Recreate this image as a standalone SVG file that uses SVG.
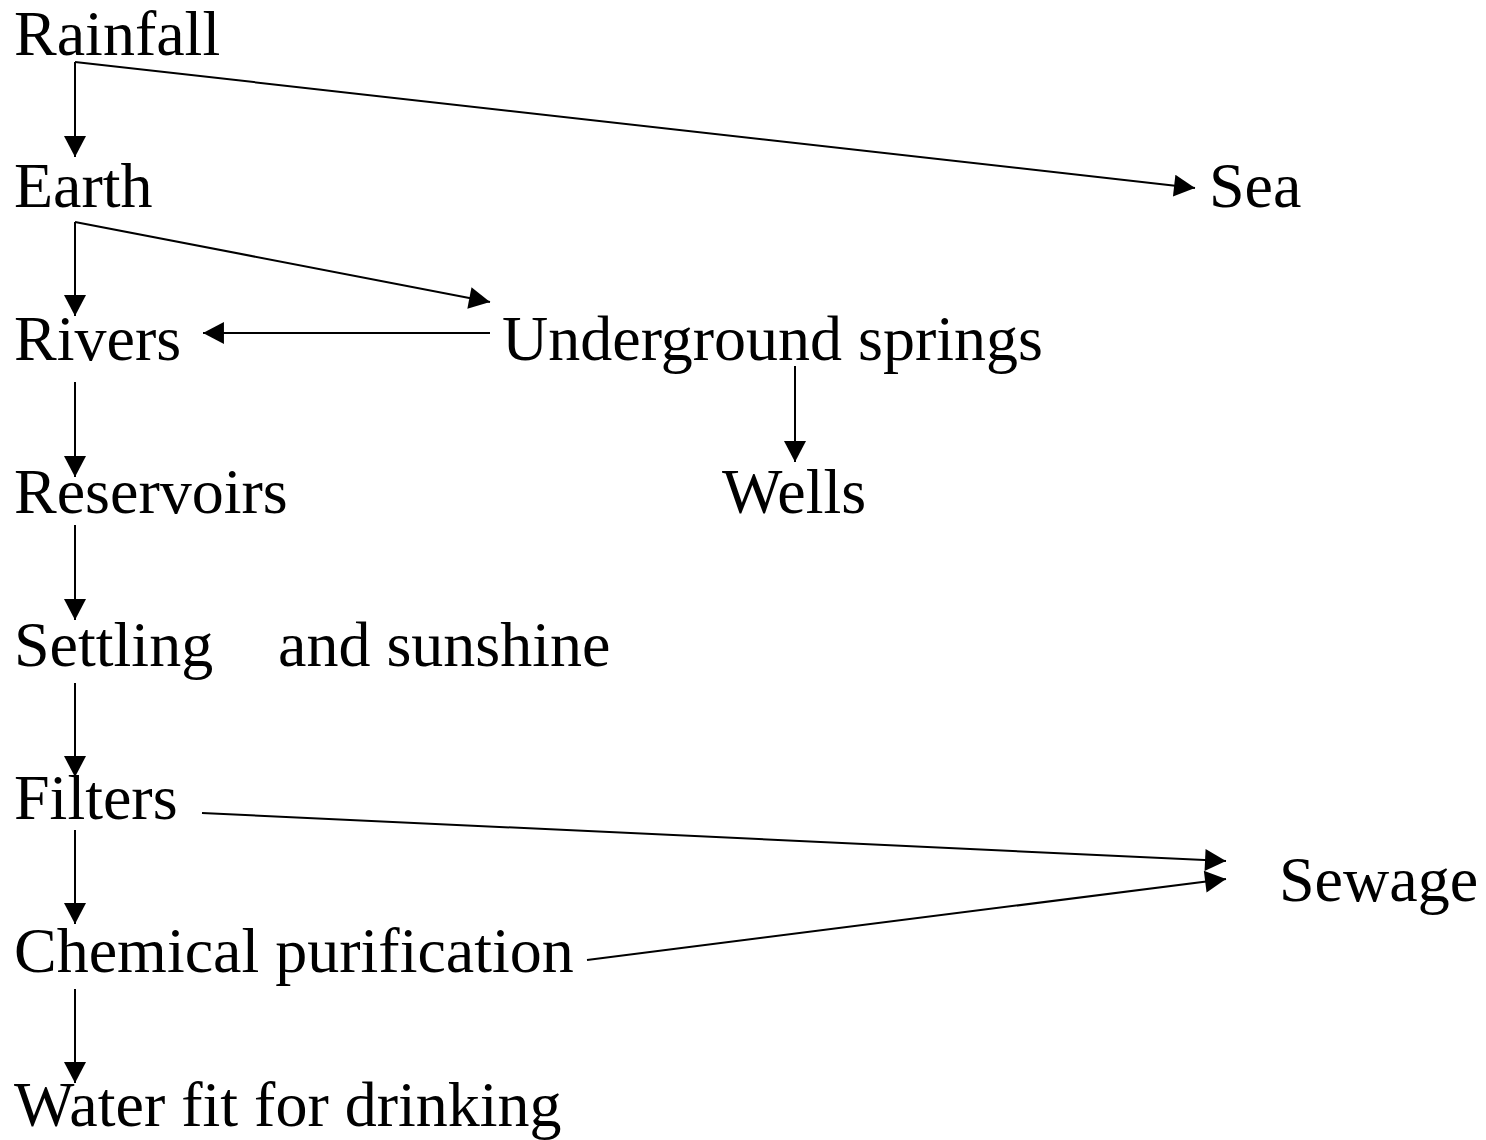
<svg xmlns="http://www.w3.org/2000/svg" width="1486" height="1140" viewBox="0 0 1486 1140">
<style>
text{font-family:"Liberation Serif","Times New Roman",serif;font-size:64px;fill:#000}
.c line{stroke:#000;stroke-width:2;fill:none;marker-end:url(#ah)}
</style>
<defs>
<marker id="ah" markerUnits="userSpaceOnUse" markerWidth="22" markerHeight="22" viewBox="0 0 20 21" refX="20" refY="10.5" orient="auto">
<path d="M0,0 L20,10.5 L0,21 Z" fill="#000"/>
</marker>
</defs>
<rect width="1486" height="1140" fill="#fff"/>
<g id="n-rainfall"><text x="14" y="55">Rainfall</text></g>
<g id="n-earth"><text x="14" y="207">Earth</text></g>
<g id="n-sea"><text x="1209" y="207">Sea</text></g>
<g id="n-rivers"><text x="14" y="360">Rivers</text></g>
<g id="n-underground"><text x="502" y="360">Underground springs</text></g>
<g id="n-reservoirs"><text x="14" y="513">Reservoirs</text></g>
<g id="n-wells"><text x="722" y="513">Wells</text></g>
<g id="n-settling"><text x="14" y="666">Settling</text><text x="278" y="666">and sunshine</text></g>
<g id="n-filters"><text x="14" y="819">Filters</text></g>
<g id="n-chemical"><text x="14" y="972">Chemical purification</text></g>
<g id="n-water"><text x="14" y="1126">Water fit for drinking</text></g>
<g id="n-sewage"><text x="1279" y="901">Sewage</text></g>
<g class="c" id="connectors">
<line x1="75" y1="62" x2="75" y2="157"/>
<line x1="75" y1="62" x2="1195" y2="188"/>
<line x1="75" y1="222" x2="75" y2="316"/>
<line x1="75" y1="222" x2="490" y2="302"/>
<line x1="490" y1="333" x2="203" y2="333"/>
<line x1="795" y1="366" x2="795" y2="462"/>
<line x1="75" y1="382" x2="75" y2="477"/>
<line x1="75" y1="525" x2="75" y2="620"/>
<line x1="75" y1="683" x2="75" y2="777"/>
<line x1="75" y1="830" x2="75" y2="924"/>
<line x1="75" y1="989" x2="75" y2="1083"/>
<line x1="202" y1="813" x2="1226" y2="861"/>
<line x1="587" y1="960" x2="1226" y2="879"/>
</g>
</svg>
